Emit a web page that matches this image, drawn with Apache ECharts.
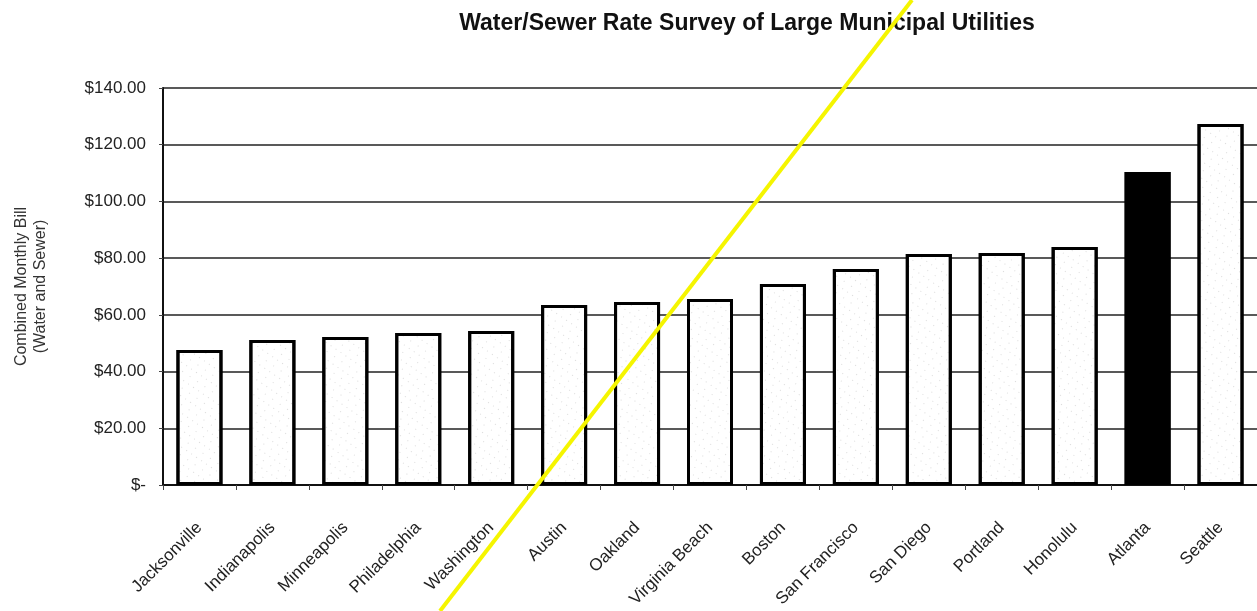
<!DOCTYPE html>
<html>
<head>
<meta charset="utf-8">
<script src="https://cdn.jsdelivr.net/npm/echarts@6/dist/echarts.min.js"></script>
<style>
  html, body { margin: 0; padding: 0; background: #fff; }
  #grafico { width: 1257px; height: 611px; }
</style>
</head>
<body>
<div id="grafico"></div>
<script>
var ciudades = ['Jacksonville', 'Indianapolis', 'Minneapolis', 'Philadelphia', 'Washington', 'Austin', 'Oakland',
    'Virginia Beach', 'Boston', 'San Francisco', 'San Diego', 'Portland', 'Honolulu', 'Atlanta', 'Seattle'];
var factura = [47.6, 51.1, 52.2, 53.6, 54.3, 63.5, 64.5, 65.6, 70.9, 76.2, 81.5, 81.8, 83.9, 110.4, 127.3];
var destacada = 'Atlanta';

var myChart01 = echarts.init(document.getElementById('grafico'));

// stipple on the white bars
var punteado = {
    symbol: 'rect', symbolSize: 0.5, color: 'rgba(0,0,0,0.55)',
    dashArrayX: [[1, 8], [1, 5]], dashArrayY: [1, 6], rotation: 0.6
};

var datos = [];
for (var i = 0; i < ciudades.length; i++) {
    var obj = { value: factura[i] };
    if (ciudades[i] == destacada) {
        obj.itemStyle = { color: '#000', decal: { symbol: 'rect', color: '#000' } };
    }
    datos.push(obj);
}

option = {
    animation: false,
    title: {
        text: 'Water/Sewer Rate Survey of Large Municipal Utilities',
        left: 742, top: 7, textAlign: 'center',
        textStyle: { fontFamily: 'Liberation Sans, Arial', fontSize: 23, fontWeight: 'bold', color: '#111' }
    },
    grid: { left: 163, right: 0, top: 88, bottom: 126 },
    xAxis: {
        type: 'category',
        data: ciudades,
        axisLine: { lineStyle: { color: '#111', width: 2 } },
        axisTick: { show: true, length: 5, lineStyle: { color: '#444' } },
        axisLabel: { rotate: 45, margin: 40, fontSize: 17, color: '#222', fontFamily: 'Liberation Sans, Arial' }
    },
    yAxis: {
        type: 'value',
        min: 0, max: 140, interval: 20,
        name: 'Combined Monthly Bill\n(Water and Sewer)',
        nameLocation: 'middle',
        nameGap: 113,
        nameRotate: 90,
        nameTextStyle: { fontSize: 16, color: '#333', lineHeight: 19, fontFamily: 'Liberation Sans, Arial' },
        axisLine: { show: true, lineStyle: { color: '#111', width: 2 } },
        axisTick: { show: true, length: 4, lineStyle: { color: '#444' } },
        splitLine: { lineStyle: { color: '#222', width: 1.5 } },
        axisLabel: {
            margin: 17, fontSize: 17, color: '#222', fontFamily: 'Liberation Sans, Arial',
            formatter: function (v) { return v == 0 ? '$-' : '$' + v.toFixed(2); }
        }
    },
    series: [{
        type: 'bar',
        data: datos,
        barWidth: 46,
        itemStyle: { color: '#fff', borderColor: '#000', borderWidth: 3, decal: punteado }
    }],
    graphic: [{
        type: 'line', z: 100,
        shape: { x1: 440, y1: 611, x2: 912, y2: 0 },
        style: { stroke: '#f5f500', lineWidth: 4 }
    }]
};

myChart01.setOption(option, true);
</script>
</body>
</html>
